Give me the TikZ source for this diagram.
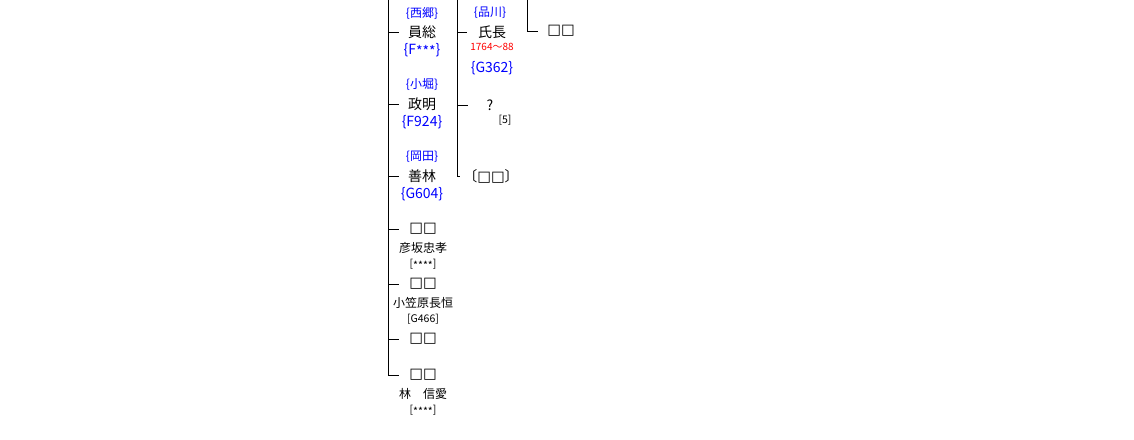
\documentclass[tikz,border=0pt]{standalone}
\usepackage{fontspec}
\setmainfont{Noto Sans CJK JP}
\newfontfamily\boxfont{DejaVu Sans}
\usetikzlibrary{positioning}
\newcommand{\sqq}{{\boxfont\fontsize{14.5}{14.5}\selectfont □□}}
\newcommand{\mk}{\raisebox{-0.35ex}{*}}

\begin{document}
\begin{tikzpicture}[x=1pt,y=-1pt]

\tikzset{
	given/.style={
		inner sep=0pt,
		font=\fontsize{14}{14}\selectfont},
	house/.style={
		inner sep=0pt,
		text=blue,
		font=\fontsize{12}{12}\selectfont},
	ident/.style={
		inner sep=0pt,
		text=blue,
		font=\fontsize{14}{14}\selectfont},
	alias/.style={
		inner sep=0pt,
		font=\fontsize{12}{12}\selectfont},
	ref/.style={
		inner sep=0pt,
		font=\fontsize{10.5}{10.5}\selectfont},
	dates/.style={
		inner sep=0pt,
		text=red,
		font=\fontsize{10}{10}\selectfont},
	branch/.style={
		line width=1pt,
		shorten >=#1}
}

\useasboundingbox (0,0) rectangle (1134,439);

% first generation
\node[given] (kazu) at (422,32) {員総};
\node[house,above=19pt of kazu.center,anchor=center] (saigo) {\{西郷\}};
\node[ident,below=18pt of kazu.center,anchor=center] (fkazu) {\{F\mk\mk\mk\}};

\node[given] (masa) at (422,104) {政明};
\node[house,above=19pt of masa.center,anchor=center] (kobori) {\{小堀\}};
\node[ident,below=18pt of masa.center,anchor=center] (fmasa) {\{F924\}};

\node[given] (yoshi) at (422,176) {善林};
\node[house,above=19pt of yoshi.center,anchor=center] (okada) {\{岡田\}};
\node[ident,below=18pt of yoshi.center,anchor=center] (gyoshi) {\{G604\}};

\node[given] (boxa) at (423,229) {\sqq};
\node[alias,below=19pt of boxa.center,anchor=center] (hiko) {彦坂忠孝};
\node[ref,below=16pt of hiko.center,anchor=center] (rhiko) {[\mk\mk\mk\mk]};

\node[given] (boxb) at (423,284) {\sqq};
\node[alias,below=19pt of boxb.center,anchor=center] (ogasa) {小笠原長恒};
\node[ref,below=16pt of ogasa.center,anchor=center] (rogasa) {[G466]};

\node[given] (boxc) at (423,339) {\sqq};

\node[given] (boxd) at (423,375) {\sqq};
\node[alias,below=19pt of boxd.center,anchor=center] (hayashi) {林　信愛};
\node[ref,below=16pt of hayashi.center,anchor=center] (rhayashi) {[\mk\mk\mk\mk]};

% second generation
\node[given] (uji) at (492,32) {氏長};
\node[house,above=19pt of uji.center,anchor=center,xshift=-2pt] (shina) {\{品川\}};
\node[dates,below=15pt of uji.center,anchor=center] (life) {1764〜88};
\node[ident,below=36pt of uji.center,anchor=center] (guji) {\{G362\}};

\node[given] (unk) at (490,105) {?};
\node[ref,anchor=center] (runk) at (505,120) {[5]};

\node[given] (kakko) at (491,176) {〔\sqq〕};

% third generation
\node[given] (boxe) at (561,31) {\sqq};

% lines
\coordinate (top1) at (388,0);
\coordinate (top2) at (457,0);
\coordinate (top3) at (527,0);

\draw[branch=10pt] (top1) |- (boxd.west);
\draw[branch=9pt] (top1|-kazu) -- (kazu.west);
\draw[branch=9pt] (top1|-masa) -- (masa.west);
\draw[branch=9pt] (top1|-yoshi) -- (yoshi.west);
\foreach \n in {boxa,boxb,boxc}
	\draw[branch=10pt] (top1|-\n) -- (\n.west);

\draw[branch=3pt] (top2) |- (kakko.west);
\draw[branch=11pt] (top2|-uji) -- (uji.west);
\draw[branch=18pt] (top2|-unk) -- (unk.west);

\draw[branch=9pt] (top3) |- (boxe.west);

\end{tikzpicture}
\end{document}
